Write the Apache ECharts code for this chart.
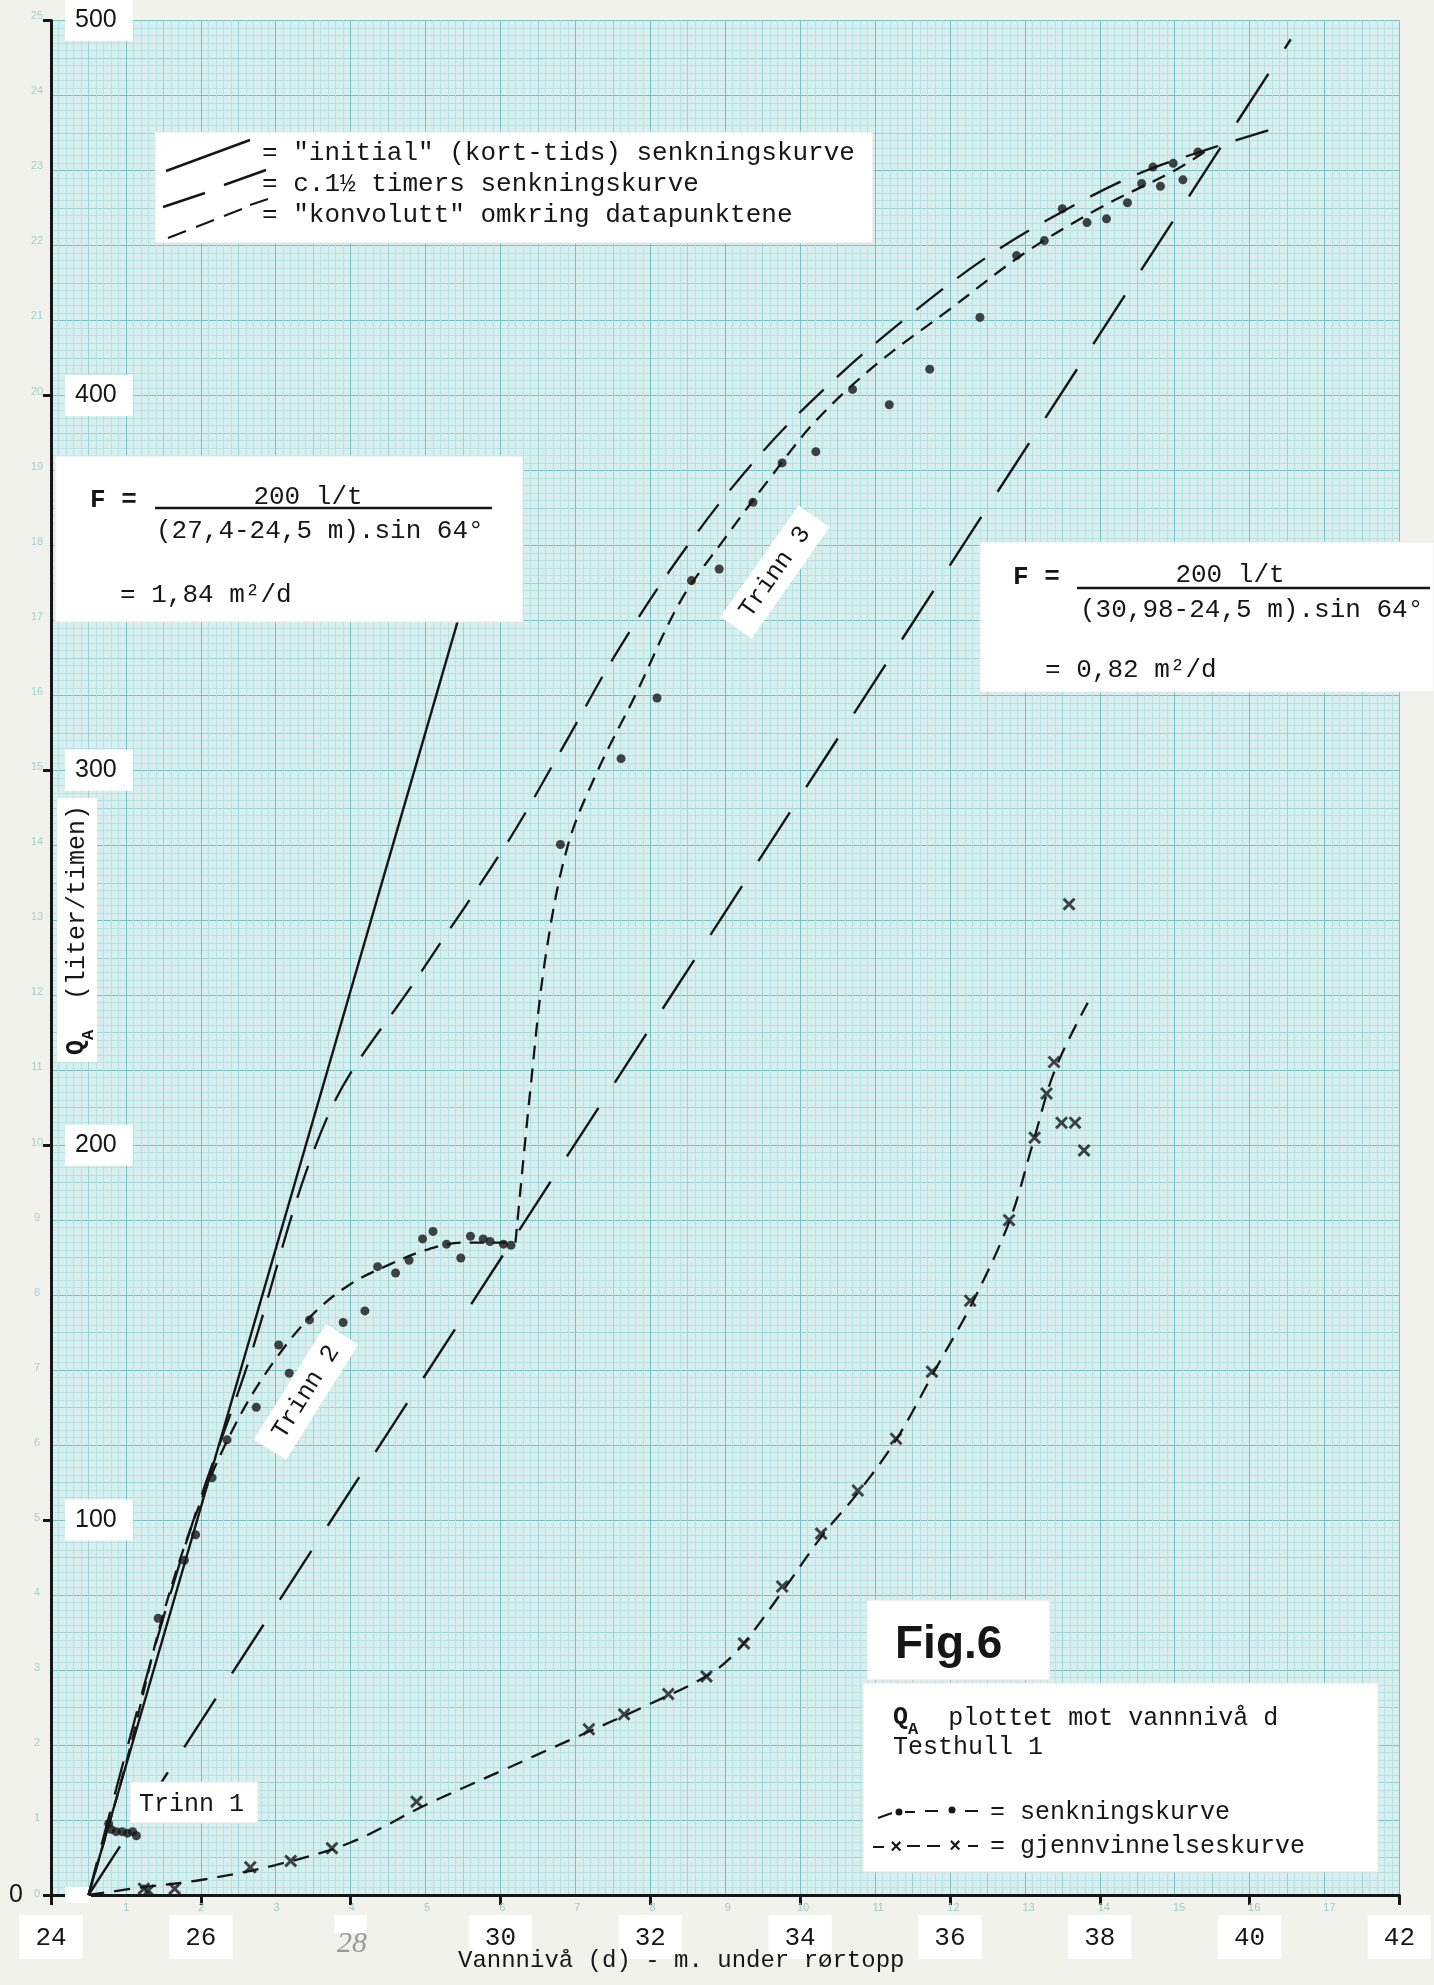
<!DOCTYPE html>
<html>
<head>
<meta charset="utf-8">
<script src="https://cdn.jsdelivr.net/npm/echarts@6/dist/echarts.min.js"></script>
<style>
  html, body { margin: 0; padding: 0; background: #f2f2ec; }
  #chart { width: 1434px; height: 1985px; }
</style>
</head>
<body>
<div id="chart"></div>
<script>
// Axis ranges and labelled ticks
const xLabelTicks = [24, 26, 30, 32, 34, 36, 38, 40, 42];
const yLabelTicks = [100, 200, 300, 400, 500];

// Senkningskurve: measured points (d [m], QA [l/t])
const senkning = [
  [24.77, 19], [24.80, 17.5], [24.87, 16.9], [24.95, 16.9], [25.02, 16.5], [25.09, 16.9], [25.14, 15.8],
  [25.43, 73.8], [25.78, 89.3], [25.93, 96.1], [26.15, 111.3], [26.35, 121.4], [26.74, 130.1],
  [27.04, 146.7], [27.18, 139.2], [27.45, 153.4], [27.90, 152.7], [28.19, 155.8], [28.36, 167.6],
  [28.60, 165.9], [28.78, 169.3], [28.96, 175.0], [29.10, 177.0], [29.28, 173.6], [29.47, 169.9],
  [29.60, 175.7], [29.77, 175.0], [29.86, 174.3], [30.04, 173.6], [30.14, 173.3],
  [30.80, 280.2], [31.61, 303.1], [32.09, 319.3], [32.55, 350.6], [32.92, 353.7], [33.37, 371.5],
  [33.76, 382.0], [34.21, 385.0], [34.70, 401.6], [35.19, 397.5], [35.73, 407.0], [36.40, 420.8],
  [36.89, 437.3], [37.26, 441.3], [37.50, 449.8], [37.83, 446.1], [38.09, 447.1], [38.37, 451.4],
  [38.56, 456.5], [38.71, 460.9], [38.81, 455.8], [38.98, 461.9], [39.11, 457.5], [39.31, 464.9]
];

// Gjenvinnelseskurve: measured points
const gjenvinning = [
  [25.24, 1.7], [25.30, 1.2], [25.65, 1.7], [26.66, 7.4], [27.20, 9.1], [27.75, 12.5], [28.88, 24.9],
  [31.18, 44.2], [31.65, 48.2], [32.24, 53.6], [32.75, 58.3], [33.25, 67.1], [33.76, 82.3],
  [34.28, 96.4], [34.77, 107.9], [35.28, 121.7], [35.76, 139.6], [36.27, 158.5], [36.79, 180.0],
  [37.13, 202.0], [37.29, 213.8], [37.39, 222.2], [37.49, 206.0], [37.67, 206.0], [37.79, 198.6],
  [37.59, 264.3]
];

// "initial" (kort-tids) senkningskurve: through (27.4, 200)
const initialLinje = [[24.5, 0], [29.65, 355]];
// c.1.5 timers senkningskurve, straight: through (30.98, 200)
const langtidLinje = [[24.5, 0], [40.55, 495]];
// c.1.5 timers senkningskurve, curved
const langtidKurve = [
  [24.5, 0], [25.0, 38], [25.5, 74], [26.0, 106], [26.6, 140], [27.7, 208], [28.9, 245], [30.1, 281],
  [30.8, 305], [31.6, 333], [32.5, 360], [33.5, 385], [34.5, 405], [35.5, 422], [36.5, 437],
  [37.5, 449], [38.5, 459], [39.5, 466], [40.3, 471]
];
// Konvolutt omkring datapunktene, trinn 2
const konvolutt2 = [
  [24.5, 0], [25.0, 35], [25.5, 75], [26.0, 105], [26.5, 127], [27.0, 143], [27.5, 155],
  [28.0, 163], [28.5, 168], [29.0, 172], [29.5, 174], [30.2, 174]
];
// Konvolutt omkring datapunktene, trinn 3
const konvolutt3 = [
  [30.2, 174], [30.4, 215], [30.6, 250], [30.9, 280], [31.3, 300], [31.8, 320], [32.4, 345],
  [33.0, 362], [33.6, 378], [34.2, 393], [35.0, 408], [36.0, 423], [37.0, 438], [38.0, 450],
  [39.0, 460], [39.4, 465]
];
// Gjenvinnelseskurve (dashed curve)
const gjenvKurve = [
  [24.5, 0], [25.2, 2], [26.0, 4], [27.0, 8], [28.0, 14], [29.0, 24], [30.0, 33], [31.0, 42],
  [32.0, 51], [32.8, 59], [33.2, 66], [33.8, 82], [34.3, 96], [34.8, 108], [35.3, 122],
  [35.8, 140], [36.3, 158], [36.8, 180], [37.1, 200], [37.4, 220], [37.84, 238]
];

const MONO = '"Liberation Mono", "DejaVu Sans Mono", monospace';
const SANS = '"Liberation Sans", Arial, sans-serif';
const INK = '#161616';

const chart = echarts.init(document.getElementById('chart'), null, { renderer: 'canvas' });

const G = { left: 51, top: 16, right: 30, bottom: 90 };

function gridAxis(interval, minorN, majorColor, minorColor, min, max) {
  return {
    type: 'value', min, max, interval,
    axisLine: { show: false }, axisTick: { show: false }, axisLabel: { show: false },
    splitLine: { show: true, lineStyle: { color: majorColor, width: 1 } },
    minorTick: { show: false, splitNumber: minorN },
    minorSplitLine: { show: minorN > 0, lineStyle: { color: minorColor, width: 1 } }
  };
}

const lineBase = { type: 'line', xAxisIndex: 2, yAxisIndex: 2, showSymbol: false, symbol: 'none', silent: true, z: 3 };

// bold "x" marker
const crossPath = 'path://M0,1.6 L1.6,0 L5,3.4 L8.4,0 L10,1.6 L6.6,5 L10,8.4 L8.4,10 L5,6.6 L1.6,10 L0,8.4 L3.4,5 Z';

// Paper print numbers along the graph sheet
const paperNums = [];
for (let n = 1; n <= 17; n++) {
  paperNums.push({ type: 'text', x: 51 + n * 75.2, y: 1908, z: 1,
    style: { text: String(n), font: '11px ' + SANS, fill: '#9fc9cc', align: 'center', verticalAlign: 'middle' } });
}
for (let k = 0; k <= 25; k++) {
  paperNums.push({ type: 'text', x: 37, y: 16 + (25 - k) * 75.1, z: 1,
    style: { text: String(k), font: '11px ' + SANS, fill: '#a8cfd2', align: 'center', verticalAlign: 'middle' } });
}

function box(x, y, w, h) {
  return { type: 'rect', shape: { x, y, width: w, height: h }, z: 50,
    style: { fill: '#ffffff', stroke: '#e6e6e2', lineWidth: 1 } };
}
function txt(x, y, text, font, extra) {
  return Object.assign({ type: 'text', x, y, z: 51,
    style: Object.assign({ text, font, fill: INK, verticalAlign: 'middle' }, extra || {}) });
}
function seg(x1, y1, x2, y2, w, dash) {
  return { type: 'line', z: 51, shape: { x1, y1, x2, y2 },
    style: { stroke: INK, lineWidth: w || 2.2, lineDash: dash || null } };
}
const F26 = '26px ' + MONO;
const F25 = '25px ' + MONO;

const graphics = [].concat(paperNums, [
  // legend of line types
  box(155, 132, 718, 111),
  seg(166, 171, 250, 140, 2.4),
  seg(163, 207, 205, 193, 2.4), seg(224, 185, 266, 170, 2.4),
  seg(168, 238, 186, 231, 2), seg(196, 227, 214, 220, 2), seg(224, 216, 242, 209, 2), seg(250, 205, 268, 199, 2),
  txt(262, 153, '= "initial" (kort-tids) senkningskurve', F26),
  txt(262, 184, '= c.1½ timers senkningskurve', F26),
  txt(262, 215, '= "konvolutt" omkring datapunktene', F26),

  // left formula box
  box(55, 456, 468, 166),
  txt(90, 500, 'F =', 'bold ' + F26),
  txt(308, 497, '200 l/t', F26, { align: 'center' }),
  seg(155, 508, 492, 508, 2.4),
  txt(156, 531, '(27,4-24,5 m).sin 64°', F26),
  txt(120, 595, '= 1,84 m²/d', F26),

  // right formula box
  box(980, 542, 454, 150),
  txt(1013, 577, 'F =', 'bold ' + F26),
  txt(1230, 575, '200 l/t', F26, { align: 'center' }),
  seg(1077, 588, 1430, 588, 2.4),
  txt(1080, 610, '(30,98-24,5 m).sin 64°', F26),
  txt(1045, 670, '= 0,82 m²/d', F26),

  // stage labels
  box(130, 1782, 128, 41),
  txt(139, 1804, 'Trinn 1', F25),
  { type: 'group', x: 306, y: 1392, rotation: Math.PI * 58 / 180, z: 50, children: [
    { type: 'rect', shape: { x: -68, y: -19, width: 136, height: 38 }, z: 50, style: { fill: '#fff' } },
    { type: 'text', x: 0, y: 0, z: 51, style: { text: 'Trinn 2', font: F25, fill: INK, align: 'center', verticalAlign: 'middle' } }
  ] },
  { type: 'group', x: 775, y: 572, rotation: Math.PI * 55 / 180, z: 50, children: [
    { type: 'rect', shape: { x: -68, y: -19, width: 136, height: 38 }, z: 50, style: { fill: '#fff' } },
    { type: 'text', x: 0, y: 0, z: 51, style: { text: 'Trinn 3', font: F25, fill: INK, align: 'center', verticalAlign: 'middle' } }
  ] },

  // y-axis title
  { type: 'group', x: 77, y: 930, rotation: Math.PI / 2, z: 50, children: [
    { type: 'rect', shape: { x: -132, y: -20, width: 264, height: 40 }, z: 50, style: { fill: '#fff' } },
    { type: 'text', x: 0, y: 0, z: 51, style: {
      text: '{q|Q}{s|A}{t|  (liter/timen)}', align: 'center', verticalAlign: 'middle', fill: INK,
      rich: {
        q: { font: 'bold 25px ' + MONO, lineHeight: 40, verticalAlign: 'middle' },
        s: { font: 'bold 17px ' + MONO, lineHeight: 18, verticalAlign: 'bottom' },
        t: { font: F25, lineHeight: 40, verticalAlign: 'middle' }
      } } }
  ] },

  // Fig.6 title and caption box
  box(867, 1600, 183, 80),
  txt(895, 1645, 'Fig.6', 'bold 46px ' + SANS),
  box(863, 1683, 515, 189),
  { type: 'text', x: 893, y: 1718, z: 51, style: {
    text: '{q|Q}{s|A}{t|  plottet mot vannnivå d}', verticalAlign: 'middle', fill: INK,
    rich: {
      q: { font: 'bold 25px ' + MONO, lineHeight: 40, verticalAlign: 'middle' },
      s: { font: 'bold 17px ' + MONO, lineHeight: 18, verticalAlign: 'bottom' },
      t: { font: F25, lineHeight: 40, verticalAlign: 'middle' }
    } } },
  txt(893, 1747, 'Testhull 1', F25),
  seg(878, 1818, 892, 1813, 2.2), seg(905, 1812, 915, 1812, 2), seg(925, 1811, 938, 1811, 2), seg(965, 1811, 978, 1811, 2),
  { type: 'circle', z: 51, shape: { cx: 899, cy: 1812, r: 3.5 }, style: { fill: INK } },
  { type: 'circle', z: 51, shape: { cx: 952, cy: 1810, r: 3.5 }, style: { fill: INK } },
  txt(990, 1812, '= senkningskurve', F25),
  seg(873, 1847, 884, 1847, 2), seg(907, 1846, 920, 1846, 2), seg(927, 1846, 940, 1846, 2), seg(968, 1846, 978, 1846, 2),
  txt(896, 1847, '×', 'bold 20px ' + SANS, { align: 'center' }),
  txt(955, 1846, '×', 'bold 20px ' + SANS, { align: 'center' }),
  txt(990, 1846, '= gjennvinnelseskurve', F25),

  // handwritten sheet mark
  txt(352, 1944, '28', 'italic 30px "Liberation Serif", serif', { fill: '#9a9a9a', align: 'center' }),

  // x-axis title
  txt(458, 1961, 'Vannnivå (d) - m. under rørtopp', '24px ' + MONO)
]);

const option = {
  animation: false,
  backgroundColor: '#f2f2ec',
  grid: Object.assign({ backgroundColor: '#d7efee', show: true, borderWidth: 0 }, G),
  xAxis: [
    gridAxis(0.5, 5, '#9fd3d5', '#b9e2e2', 24, 42),
    gridAxis(1, 0, '#79c0c5', '#79c0c5', 24, 42),
    {
      type: 'value', min: 24, max: 42, interval: 2, position: 'bottom',
      axisLine: { show: true, onZero: false, lineStyle: { color: INK, width: 3 } },
      axisTick: { show: true, length: 10, lineStyle: { color: INK, width: 3 } },
      splitLine: { show: false },
      axisLabel: {
        margin: 20, color: INK, fontFamily: MONO, fontSize: 26,
        backgroundColor: '#ffffff', padding: [10, 16, 8, 16],
        formatter: v => (xLabelTicks.indexOf(v) >= 0 ? String(v) : '')
      }
    }
  ],
  yAxis: [
    gridAxis(10, 5, '#9fd3d5', '#b9e2e2', 0, 500),
    gridAxis(20, 0, '#79c0c5', '#79c0c5', 0, 500),
    {
      type: 'value', min: 0, max: 500, interval: 100, position: 'left',
      axisLine: { show: true, onZero: false, lineStyle: { color: INK, width: 3 } },
      axisTick: { show: true, length: 8, lineStyle: { color: INK, width: 3 } },
      splitLine: { show: false },
      axisLabel: {
        inside: true, margin: 14, color: INK, fontFamily: SANS, fontSize: 25,
        backgroundColor: '#ffffff', padding: [8, 16, 8, 10],
        formatter: v => (yLabelTicks.indexOf(v) >= 0 ? String(v) : '')
      }
    },
    {
      type: 'value', min: 0, max: 500, interval: 100, position: 'left',
      axisLine: { show: false }, axisTick: { show: false }, splitLine: { show: false },
      axisLabel: { margin: 28, color: INK, fontFamily: SANS, fontSize: 25, formatter: v => (v === 0 ? '0' : '') }
    }
  ],
  series: [
    Object.assign({}, lineBase, { name: 'initial', data: initialLinje,
      lineStyle: { color: INK, width: 2.4 } }),
    Object.assign({}, lineBase, { name: 'langtid', data: langtidLinje,
      lineStyle: { color: INK, width: 2.4, type: [58, 30] } }),
    Object.assign({}, lineBase, { name: 'langtidKurve', data: langtidKurve, smooth: 0.35,
      lineStyle: { color: INK, width: 2.3, type: [34, 18] } }),
    Object.assign({}, lineBase, { name: 'konvolutt2', data: konvolutt2, smooth: 0.35,
      lineStyle: { color: INK, width: 2.3, type: [14, 9] } }),
    Object.assign({}, lineBase, { name: 'konvolutt3', data: konvolutt3, smooth: 0.35,
      lineStyle: { color: INK, width: 2.3, type: [14, 9] } }),
    Object.assign({}, lineBase, { name: 'gjenvKurve', data: gjenvKurve, smooth: 0.35,
      lineStyle: { color: INK, width: 2.3, type: [16, 10] } }),
    { type: 'scatter', name: 'senkning', xAxisIndex: 2, yAxisIndex: 2, data: senkning,
      symbol: 'circle', symbolSize: 9, itemStyle: { color: INK }, z: 4, silent: true },
    { type: 'scatter', name: 'gjenvinning', xAxisIndex: 2, yAxisIndex: 2, data: gjenvinning,
      symbol: crossPath, symbolSize: 13, itemStyle: { color: INK }, z: 4, silent: true }
  ],
  graphic: graphics
};

option.xAxis.forEach(a => { a.gridIndex = 0; });
option.yAxis.forEach(a => { a.gridIndex = 0; });
chart.setOption(option);
</script>
</body>
</html>
